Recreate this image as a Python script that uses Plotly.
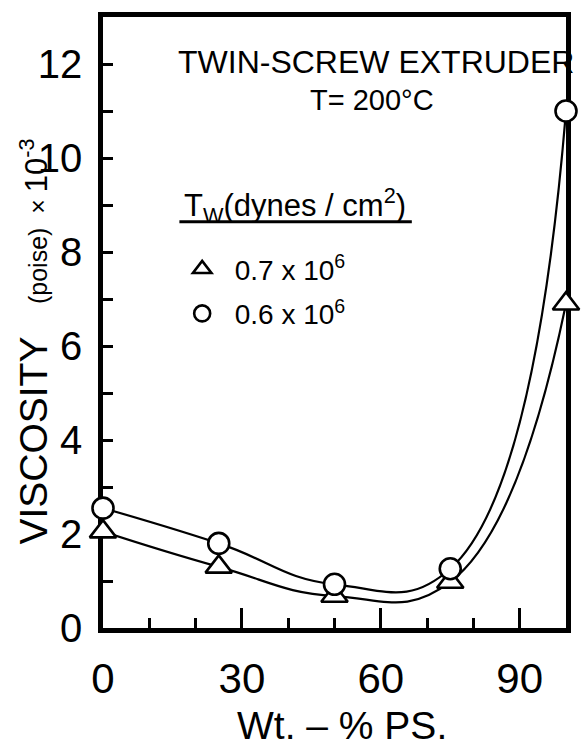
import plotly.graph_objects as go

# ---- data ----
ps_wt = [0, 25, 50, 75, 100]                 # Wt.-% PS
visc_tw07 = [2.05, 1.30, 0.68, 0.98, 6.9]     # triangles, Tw = 0.7e6
visc_tw06 = [2.55, 1.80, 0.93, 1.26, 11.0]    # circles,   Tw = 0.6e6
legend_names = ["0.7 x 10<sup>6</sup>", "0.6 x 10<sup>6</sup>"]
x_ticks = [0, 30, 60, 90]
y_ticks = [0, 2, 4, 6, 8, 10, 12]

FONT = "Liberation Sans"
NARROW = "Liberation Sans Narrow, Liberation Sans"
fig = go.Figure()

# smooth curves
for vals in (visc_tw07, visc_tw06):
    fig.add_trace(go.Scatter(
        x=ps_wt, y=vals, mode="lines",
        line=dict(color="black", width=2.2, shape="spline", smoothing=1.3),
        showlegend=False, hoverinfo="skip", cliponaxis=False))

# markers
for vals, sym, name, size, grp in ((visc_tw07, "triangle-up", legend_names[0], 23, "a"),
                                   (visc_tw06, "circle", legend_names[1], 21, "b")):
    fig.add_trace(go.Scatter(
        x=ps_wt, y=vals, mode="markers", name=name, legendgroup=grp,
        marker=dict(symbol=sym, size=size, color="white",
                    line=dict(color="black", width=2.6)),
        cliponaxis=False))

axis_common = dict(
    showline=True, linecolor="black", linewidth=4.5, mirror=True,
    ticks="inside", tickcolor="black", tickwidth=2.5,
    showgrid=False, zeroline=False, layer="below traces",
)

fig.update_xaxes(range=[0, 100], tickvals=x_ticks, ticklen=20,
                 minor=dict(dtick=10, ticks="inside", ticklen=10, tickwidth=2.5, tickcolor="black"),
                 ticklabelstandoff=10, tickfont=dict(family=FONT, size=42, color="black"),
                 **axis_common)
fig.update_yaxes(range=[0, 13.0], tickvals=y_ticks, ticklen=10,
                 minor=dict(dtick=1, ticks="inside", ticklen=10, tickwidth=2.5, tickcolor="black"),
                 ticklabelstandoff=8, tickfont=dict(family=NARROW, size=40, color="black"),
                 **axis_common)

common_ann = dict(xref="paper", yref="paper", showarrow=False, yanchor="middle")
ann = [
    dict(text="TWIN-SCREW EXTRUDER", x=0.590, y=0.926, xanchor="center",
         font=dict(family=FONT, size=32, color="black"), **common_ann),
    dict(text="T= 200°C", x=0.581, y=0.864, xanchor="center",
         font=dict(family=FONT, size=29, color="black"), **common_ann),
    dict(text="T<sub>W</sub>(dynes / cm<sup>2</sup>)", x=0.171, y=0.692, xanchor="left",
         font=dict(family=FONT, size=31, color="black"), **common_ann),
    dict(text="VISCOSITY\u00a0\u00a0\u00a0<span style='font-size:25px'>(poise)\u00a0\u00a0×\u00a0</span>"
              "<span style='font-size:31px'>10<sup>-3</sup></span>",
         x=-0.150, y=0.468, xanchor="center", textangle=-90,
         font=dict(family=FONT, size=39, color="black"), **common_ann),
    dict(text="Wt. – % PS.", x=0.517, y=-0.159, xanchor="center",
         font=dict(family=FONT, size=39, color="black"), **common_ann),
]

fig.update_layout(
    width=583, height=748,
    margin=dict(l=103, r=12, t=17, b=120),
    paper_bgcolor="white", plot_bgcolor="white",
    annotations=ann,
    shapes=[dict(type="line", xref="paper", yref="paper", x0=0.165, x1=0.667,
                 y0=0.665, y1=0.665, line=dict(color="black", width=3))],
    legend=dict(x=0.144, y=0.628, xanchor="left", yanchor="top",
                bgcolor="rgba(0,0,0,0)", font=dict(family=FONT, size=28, color="black"),
                itemsizing="trace", itemwidth=55, tracegroupgap=5),
    font=dict(family=FONT, color="black"),
)

fig.write_html("out.html", config={"displayModeBar": False},
               post_script="document.body.style.margin='0';document.body.style.overflow='hidden';")
